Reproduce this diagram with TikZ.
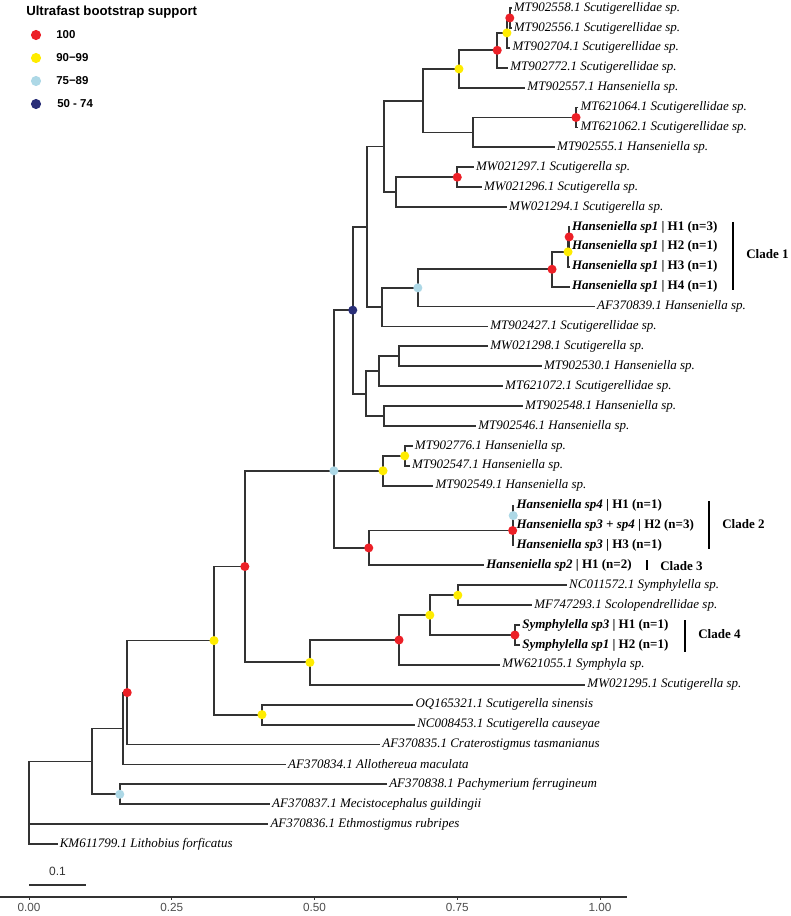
\documentclass[tikz,border=0pt]{standalone}
\usepackage{fontspec}
\setmainfont{Liberation Serif}
\setsansfont{Liberation Sans}

\definecolor{bsred}{RGB}{236,32,39}
\definecolor{bsyellow}{RGB}{255,236,0}
\definecolor{bslight}{RGB}{173,216,230}
\definecolor{bsnavy}{RGB}{41,46,120}
\definecolor{branchgray}{RGB}{51,51,51}
\definecolor{axisgray}{RGB}{77,77,77}

\tikzset{
  branch/.style={draw=branchgray, line width=1.35pt},
  tiplab/.style={anchor=west, inner xsep=1.5pt, inner ysep=0pt, font=\fontsize{9.75}{11}\selectfont\itshape},
  hapl/.style={anchor=west, inner xsep=1.5pt, inner ysep=0pt, font=\fontsize{9.75}{11}\selectfont\bfseries},
  clade/.style={anchor=west, inner sep=0pt, font=\fontsize{9.75}{11}\selectfont\bfseries},
  cladebar/.style={draw=black, line width=1.2pt},
  bs/.style={circle, inner sep=0pt, minimum size=6.8pt},
  b100/.style={bs, fill=bsred},
  b90/.style={bs, fill=bsyellow},
  b75/.style={bs, fill=bslight},
  b50/.style={bs, fill=bsnavy},
  keydot/.style={circle, inner sep=0pt, minimum size=7.6pt},
  keylab/.style={anchor=west, inner sep=0pt, font=\fontsize{8.6}{10}\selectfont\sffamily\bfseries},
  ticklab/.style={inner sep=0pt, text=axisgray, font=\fontsize{8.8}{10}\selectfont\sffamily}
}

\begin{document}
\begin{tikzpicture}[x=0.75pt, y=-0.75pt]
\useasboundingbox (0,0) rectangle (790,916);

\begin{scope}[shift={(29,-11.905)}, x=428.25pt, y=-14.929pt]
  \coordinate (t1) at (0.845,1);
  \coordinate (t2) at (0.845,2);
  \coordinate (t3) at (0.843,3);
  \coordinate (t4) at (0.839,4);
  \coordinate (t5) at (0.869,5);
  \coordinate (t6) at (0.962,6);
  \coordinate (t7) at (0.962,7);
  \coordinate (t8) at (0.921,8);
  \coordinate (t9) at (0.779,9);
  \coordinate (t10) at (0.793,10);
  \coordinate (t11) at (0.837,11);
  \coordinate (t12) at (0.947,12);
  \coordinate (t13) at (0.947,13);
  \coordinate (t14) at (0.947,14);
  \coordinate (t15) at (0.947,15);
  \coordinate (t16) at (0.991,16);
  \coordinate (t17) at (0.804,17);
  \coordinate (t18) at (0.804,18);
  \coordinate (t19) at (0.898,19);
  \coordinate (t20) at (0.830,20);
  \coordinate (t21) at (0.865,21);
  \coordinate (t22) at (0.783,22);
  \coordinate (t23) at (0.672,23);
  \coordinate (t24) at (0.667,24);
  \coordinate (t25) at (0.708,25);
  \coordinate (t26) at (0.850,26);
  \coordinate (t27) at (0.850,27);
  \coordinate (t28) at (0.850,28);
  \coordinate (t29) at (0.797,29);
  \coordinate (t30) at (0.942,30);
  \coordinate (t31) at (0.881,31);
  \coordinate (t32) at (0.860,32);
  \coordinate (t33) at (0.860,33);
  \coordinate (t34) at (0.825,34);
  \coordinate (t35) at (0.974,35);
  \coordinate (t36) at (0.673,36);
  \coordinate (t37) at (0.676,37);
  \coordinate (t38) at (0.615,38);
  \coordinate (t39) at (0.450,39);
  \coordinate (t40) at (0.627,40);
  \coordinate (t41) at (0.422,41);
  \coordinate (t42) at (0.419,42);
  \coordinate (t43) at (0.050,43);

  \coordinate (n0) at (0,38.85);
  \coordinate (n1) at (0.110,38.85);
  \coordinate (n2) at (0.164,37.2);
  \coordinate (n3) at (0.159,40.5);
  \coordinate (n4) at (0.172,35.39);
  \coordinate (n5) at (0.324,32.78);
  \coordinate (n6) at (0.378,29.06);
  \coordinate (n7) at (0.408,36.5);
  \coordinate (n8) at (0.534,24.25);
  \coordinate (n9) at (0.492,33.875);
  \coordinate (n10) at (0.648,32.75);
  \coordinate (n11) at (0.567,16.18);
  \coordinate (n12) at (0.592,11.99);
  \coordinate (n13) at (0.590,20.375);
  \coordinate (n14) at (0.622,7.955);
  \coordinate (n15) at (0.618,16.03);
  \coordinate (n16) at (0.690,5.66);
  \coordinate (n17) at (0.643,10.25);
  \coordinate (n18) at (0.753,4.0625);
  \coordinate (n19) at (0.778,7.25);
  \coordinate (n20) at (0.820,3.125);
  \coordinate (n21) at (0.837,2.25);
  \coordinate (n22) at (0.842,1.5);
  \coordinate (n23) at (0.958,6.5);
  \coordinate (n24) at (0.750,9.5);
  \coordinate (n25) at (0.681,15.06);
  \coordinate (n26) at (0.916,14.125);
  \coordinate (n27) at (0.944,13.25);
  \coordinate (n28) at (0.946,12.5);
  \coordinate (n29) at (0.613,19.25);
  \coordinate (n30) at (0.622,21.5);
  \coordinate (n31) at (0.648,18.5);
  \coordinate (n32) at (0.620,24.25);
  \coordinate (n33) at (0.658,23.5);
  \coordinate (n34) at (0.595,28.125);
  \coordinate (n35) at (0.847,27.25);
  \coordinate (n36) at (0.848,26.5);
  \coordinate (n37) at (0.702,31.5);
  \coordinate (n38) at (0.751,30.5);
  \coordinate (n39) at (0.851,32.5);

  \draw[branch] (t1) -| (n22) |- (t2);
  \draw[branch] (n22) -| (n21) |- (t3);
  \draw[branch] (n21) -| (n20) |- (t4);
  \draw[branch] (n20) -| (n18) |- (t5);
  \draw[branch] (t6) -| (n23) |- (t7);
  \draw[branch] (n23) -| (n19) |- (t8);
  \draw[branch] (n18) -| (n16) |- (n19);
  \draw[branch] (t9) -| (n24) |- (t10);
  \draw[branch] (n24) -| (n17) |- (t11);
  \draw[branch] (n16) -| (n14) |- (n17);
  \draw[branch] (t12) -| (n28) |- (t13);
  \draw[branch] (n28) -| (n27) |- (t14);
  \draw[branch] (n27) -| (n26) |- (t15);
  \draw[branch] (n26) -| (n25) |- (t16);
  \draw[branch] (n25) -| (n15) |- (t17);
  \draw[branch] (n14) -| (n12) |- (n15);
  \draw[branch] (t18) -| (n31) |- (t19);
  \draw[branch] (n31) -| (n29) |- (t20);
  \draw[branch] (t21) -| (n30) |- (t22);
  \draw[branch] (n29) -| (n13) |- (n30);
  \draw[branch] (n12) -| (n11) |- (n13);
  \draw[branch] (t23) -| (n33) |- (t24);
  \draw[branch] (n33) -| (n32) |- (t25);
  \draw[branch] (t26) -| (n36) |- (t27);
  \draw[branch] (n36) -| (n35) |- (t28);
  \draw[branch] (n35) -| (n34) |- (t29);
  \draw[branch] (n11) -| (n8) |- (n34);
  \draw[branch] (n8) -- (n32);
  \draw[branch] (t30) -| (n38) |- (t31);
  \draw[branch] (t32) -| (n39) |- (t33);
  \draw[branch] (n38) -| (n37) |- (n39);
  \draw[branch] (n37) -| (n10) |- (t34);
  \draw[branch] (n10) -| (n9) |- (t35);
  \draw[branch] (n8) -| (n6) |- (n9);
  \draw[branch] (t36) -| (n7) |- (t37);
  \draw[branch] (n6) -| (n5) |- (n7);
  \draw[branch] (n5) -| (n4) |- (t38);
  \draw[branch] (n4) -| (n2) |- (t39);
  \draw[branch] (t40) -| (n3) |- (t41);
  \draw[branch] (n2) -| (n1) |- (n3);
  \draw[branch] (n1) -| (n0) |- (t43);
  \draw[branch] (n0) |- (t42);

  \node[b100] (d22) at (n22) {};
  \node[b90] (d21) at (n21) {};
  \node[b100] (d20) at (n20) {};
  \node[b90] (d18) at (n18) {};
  \node[b100] (d23) at (n23) {};
  \node[b100] (d24) at (n24) {};
  \node[b100] (d28) at (n28) {};
  \node[b90] (d27) at (n27) {};
  \node[b100] (d26) at (n26) {};
  \node[b75] (d25) at (n25) {};
  \node[b50] (d11) at (n11) {};
  \node[b90] (d33) at (n33) {};
  \node[b90] (d32) at (n32) {};
  \node[b75] (d8) at (n8) {};
  \node[b75] (d36) at (n36) {};
  \node[b100] (d35) at (n35) {};
  \node[b100] (d34) at (n34) {};
  \node[b90] (d38) at (n38) {};
  \node[b100] (d39) at (n39) {};
  \node[b90] (d37) at (n37) {};
  \node[b100] (d10) at (n10) {};
  \node[b90] (d9) at (n9) {};
  \node[b100] (d6) at (n6) {};
  \node[b90] (d7) at (n7) {};
  \node[b90] (d5) at (n5) {};
  \node[b100] (d4) at (n4) {};
  \node[b75] (d3) at (n3) {};

  \node[tiplab] (l1) at (t1) {MT902558.1 Scutigerellidae sp.};
  \node[tiplab] (l2) at (t2) {MT902556.1 Scutigerellidae sp.};
  \node[tiplab] (l3) at (t3) {MT902704.1 Scutigerellidae sp.};
  \node[tiplab] (l4) at (t4) {MT902772.1 Scutigerellidae sp.};
  \node[tiplab] (l5) at (t5) {MT902557.1 Hanseniella sp.};
  \node[tiplab] (l6) at (t6) {MT621064.1 Scutigerellidae sp.};
  \node[tiplab] (l7) at (t7) {MT621062.1 Scutigerellidae sp.};
  \node[tiplab] (l8) at (t8) {MT902555.1 Hanseniella sp.};
  \node[tiplab] (l9) at (t9) {MW021297.1 Scutigerella sp.};
  \node[tiplab] (l10) at (t10) {MW021296.1 Scutigerella sp.};
  \node[tiplab] (l11) at (t11) {MW021294.1 Scutigerella sp.};
  \node[hapl] (l12) at (t12) {\textit{Hanseniella sp1} | H1 (n=3)};
  \node[hapl] (l13) at (t13) {\textit{Hanseniella sp1} | H2 (n=1)};
  \node[hapl] (l14) at (t14) {\textit{Hanseniella sp1} | H3 (n=1)};
  \node[hapl] (l15) at (t15) {\textit{Hanseniella sp1} | H4 (n=1)};
  \node[tiplab] (l16) at (t16) {AF370839.1 Hanseniella sp.};
  \node[tiplab] (l17) at (t17) {MT902427.1 Scutigerellidae sp.};
  \node[tiplab] (l18) at (t18) {MW021298.1 Scutigerella sp.};
  \node[tiplab] (l19) at (t19) {MT902530.1 Hanseniella sp.};
  \node[tiplab] (l20) at (t20) {MT621072.1 Scutigerellidae sp.};
  \node[tiplab] (l21) at (t21) {MT902548.1 Hanseniella sp.};
  \node[tiplab] (l22) at (t22) {MT902546.1 Hanseniella sp.};
  \node[tiplab] (l23) at (t23) {MT902776.1 Hanseniella sp.};
  \node[tiplab] (l24) at (t24) {MT902547.1 Hanseniella sp.};
  \node[tiplab] (l25) at (t25) {MT902549.1 Hanseniella sp.};
  \node[hapl] (l26) at (t26) {\textit{Hanseniella sp4} | H1 (n=1)};
  \node[hapl] (l27) at (t27) {\textit{Hanseniella sp3 + sp4} | H2 (n=3)};
  \node[hapl] (l28) at (t28) {\textit{Hanseniella sp3} | H3 (n=1)};
  \node[hapl] (l29) at (t29) {\textit{Hanseniella sp2} | H1 (n=2)};
  \node[tiplab] (l30) at (t30) {NC011572.1 Symphylella sp.};
  \node[tiplab] (l31) at (t31) {MF747293.1 Scolopendrellidae sp.};
  \node[hapl] (l32) at (t32) {\textit{Symphylella sp3} | H1 (n=1)};
  \node[hapl] (l33) at (t33) {\textit{Symphylella sp1} | H2 (n=1)};
  \node[tiplab] (l34) at (t34) {MW621055.1 Symphyla sp.};
  \node[tiplab] (l35) at (t35) {MW021295.1 Scutigerella sp.};
  \node[tiplab] (l36) at (t36) {OQ165321.1 Scutigerella sinensis};
  \node[tiplab] (l37) at (t37) {NC008453.1 Scutigerella causeyae};
  \node[tiplab] (l38) at (t38) {AF370835.1 Craterostigmus tasmanianus};
  \node[tiplab] (l39) at (t39) {AF370834.1 Allothereua maculata};
  \node[tiplab] (l40) at (t40) {AF370838.1 Pachymerium ferrugineum};
  \node[tiplab] (l41) at (t41) {AF370837.1 Mecistocephalus guildingii};
  \node[tiplab] (l42) at (t42) {AF370836.1 Ethmostigmus rubripes};
  \node[tiplab] (l43) at (t43) {KM611799.1 Lithobius forficatus};

  % scale bar and axis
  \draw[branch] (0,45.06) -- (0.1,45.06);
  \node[ticklab, text=black!80, font=\fontsize{9}{10}\selectfont\sffamily] (sc) at (0.05,44.35) {0.1};
  \draw[branch] (-0.0508,45.663) -- (1.047,45.663);
  \foreach \v/\lab [count=\k] in {0/0.00,0.25/0.25,0.5/0.50,0.75/0.75,1/1.00}{
    \draw[branch, line width=0.7pt] (\v,45.663) -- (\v,45.82);
    \node[ticklab] (tk\k) at (\v,46.21) {\lab};
  }
\end{scope}

\draw[cladebar] (733,222) -- (733,290);
\node[clade] (c1) at (746,254) {Clade 1};
\draw[cladebar] (709,501) -- (709,549);
\node[clade] (c2) at (722,524) {Clade 2};
\draw[cladebar] (647,560) -- (647,570);
\node[clade] (c3) at (660,566) {Clade 3};
\draw[cladebar] (685,620) -- (685,652);
\node[clade] (c4) at (698,634) {Clade 4};

\node[anchor=west, inner sep=0pt, font=\fontsize{9.9}{12}\selectfont\sffamily\bfseries] (ttl) at (26,12) {Ultrafast bootstrap support};
\node[keydot, fill=bsred] (k1) at (36,35) {};
\node[keydot, fill=bsyellow] (k2) at (36,58) {};
\node[keydot, fill=bslight] (k3) at (36,81) {};
\node[keydot, fill=bsnavy] (k4) at (36,104) {};
\node[keylab] (kl1) at (56,35) {100};
\node[keylab] (kl2) at (56,58) {90−99};
\node[keylab] (kl3) at (56,81) {75−89};
\node[keylab] (kl4) at (57,104) {50 - 74};
\end{tikzpicture}
\end{document}
